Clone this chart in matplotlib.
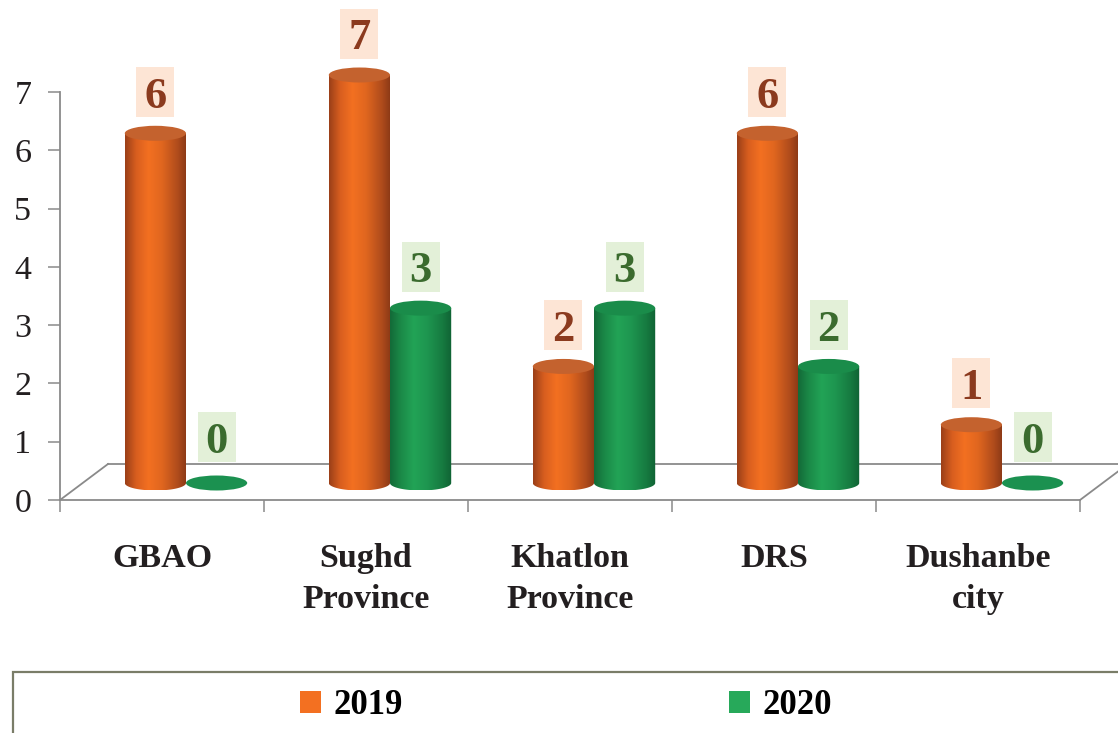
import numpy as np
import matplotlib
matplotlib.use('Agg')
import matplotlib.pyplot as plt
from matplotlib.patches import Ellipse, PathPatch, Rectangle, Patch
from matplotlib.path import Path
from matplotlib.colors import LinearSegmentedColormap

categories = ['GBAO', 'Sughd\nProvince', 'Khatlon\nProvince', 'DRS', 'Dushanbe\ncity']
series_names = ['2019', '2020']
values_2019 = [6, 7, 2, 6, 1]
values_2020 = [0, 3, 3, 2, 0]
y_ticks = [0, 1, 2, 3, 4, 5, 6, 7]

plt.rcParams['font.family'] = ['Liberation Serif', 'DejaVu Serif']

W, H = 1118, 733
fig = plt.figure(figsize=(W / 100, H / 100), dpi=100)
ax = fig.add_axes([0, 0, 1, 1])
px_x = 204.0            # pixels per category
px_y = 408.0 / 7        # pixels per unit
x0_px, y0_px = 60, 500  # pixel position of axis origin (from top)
ax.set_xlim(-0.5 - x0_px / px_x, -0.5 + (W - x0_px) / px_x)
ax.set_ylim(-(H - y0_px) / px_y, y0_px / px_y)

DX = 48 / px_x
DY = 36 / px_y
grey = '#8a8a8a'

# spines / axes
for s in ['top', 'right']:
    ax.spines[s].set_visible(False)
ax.spines['left'].set_position(('data', -0.5))
ax.spines['left'].set_bounds(0, 7)
ax.spines['bottom'].set_position(('data', 0))
ax.spines['bottom'].set_bounds(-0.5, len(categories) - 0.5)
for s in ['left', 'bottom']:
    ax.spines[s].set_color(grey)
    ax.spines[s].set_linewidth(1.3)
ax.set_yticks(y_ticks)
ax.set_yticklabels([str(t) for t in y_ticks])
ax.tick_params(axis='y', direction='out', length=8.6, width=1.1, color=grey,
               labelsize=24.5, labelcolor='#231f20', pad=12)
ax.set_xticks(range(len(categories)))
ax.set_xticklabels(categories, fontsize=24.5, fontweight='bold', color='#231f20',
                   linespacing=1.43)
ax.tick_params(axis='x', which='major', length=0, pad=31)
ax.set_xticks(np.arange(-0.5, len(categories)), minor=True)
ax.tick_params(axis='x', which='minor', direction='out', length=8.6, width=1.1, color=grey)
ax.set_facecolor('white')

# floor
n = len(categories)
ax.plot([-0.5 + DX, n - 0.5 + DX], [DY, DY], color=grey, lw=1.3, zorder=1, clip_on=False)
ax.plot([-0.5, -0.5 + DX], [0, DY], color=grey, lw=1.3, zorder=1, clip_on=False)
ax.plot([n - 0.5, n - 0.5 + DX], [0, DY], color=grey, lw=1.3, zorder=1, clip_on=False)

orange_cmap = LinearSegmentedColormap.from_list('o', [
    (0.0, '#9a3f18'), (0.18, '#d85e1f'), (0.38, '#f37021'), (0.6, '#e0661f'),
    (0.85, '#b04c1c'), (1.0, '#8a3816')])
green_cmap = LinearSegmentedColormap.from_list('g', [
    (0.0, '#136a38'), (0.18, '#1b8a48'), (0.38, '#22a356'), (0.6, '#1e9650'),
    (0.85, '#167a40'), (1.0, '#106234')])
styles = {
    '2019': dict(cmap=orange_cmap, top='#c4622e', flat='#e0661f', legend='#f37021',
                 txt='#8b3a1e', box='#fde5d5', off=DX / 2 - 0.15),
    '2020': dict(cmap=green_cmap, top='#1a8c4a', flat='#1b9150', legend='#27a95a',
                 txt='#3b6b2e', box='#e3f0d8', off=DX / 2 + 0.15),
}

BW = 0.30
EH = 15 / px_y
BASE = 17 / px_y
LBW = 38 / px_x
LBH = 50 / px_y
grad = np.linspace(0, 1, 256).reshape(1, -1)


def cylinder(xc, v, st):
    top = BASE + v
    if v == 0:
        ax.add_patch(Ellipse((xc, BASE), BW, EH, facecolor=st['flat'], edgecolor='none', zorder=3))
        return
    t = np.linspace(np.pi, 2 * np.pi, 60)
    xs = xc + BW / 2 * np.cos(t)
    ys = BASE + EH / 2 * np.sin(t)
    verts = [(xc - BW / 2, top)] + list(zip(xs, ys)) + [(xc + BW / 2, top), (xc - BW / 2, top)]
    patch = PathPatch(Path(verts), facecolor='none', edgecolor='none', zorder=3)
    ax.add_patch(patch)
    im = ax.imshow(grad, cmap=st['cmap'], extent=[xc - BW / 2, xc + BW / 2, BASE - EH / 2, top],
                   aspect='auto', zorder=3, interpolation='bicubic')
    im.set_clip_path(patch)
    ax.add_patch(Ellipse((xc, top), BW, EH, facecolor=st['top'], edgecolor='none', zorder=4))


for name, vals in zip(series_names, [values_2019, values_2020]):
    st = styles[name]
    for i, v in enumerate(vals):
        xc = i + st['off']
        cylinder(xc, v, st)
        ly = v + (1.0 if v > 0 else 1.08)
        ax.add_patch(Rectangle((xc - LBW / 2, ly - LBH / 2), LBW, LBH, facecolor=st['box'],
                               edgecolor='none', zorder=5))
        ax.text(xc, ly, str(v), ha='center', va='center_baseline',
                fontsize=32, fontweight='bold', color=st['txt'], zorder=6)

ax.set_xlim(-0.5 - x0_px / px_x, -0.5 + (W - x0_px) / px_x)
ax.set_ylim(-(H - y0_px) / px_y, y0_px / px_y)

# legend
handles = [Patch(facecolor=styles[s]['legend'], edgecolor='none') for s in series_names]
fig.legend(handles, series_names, ncol=2, loc='center', bbox_to_anchor=(566 / W, 1 - 706 / H),
           frameon=False, prop=dict(weight='bold', size=25), handlelength=0.6, handleheight=0.6,
           handletextpad=0.35, columnspacing=9.4)
fig.add_artist(Rectangle((13 / W, -0.2), 1.2, 0.2 + (H - 672) / H, transform=fig.transFigure,
                         fill=False, edgecolor='#7a7d68', lw=1.6))

fig.savefig('out.png', dpi=100)
